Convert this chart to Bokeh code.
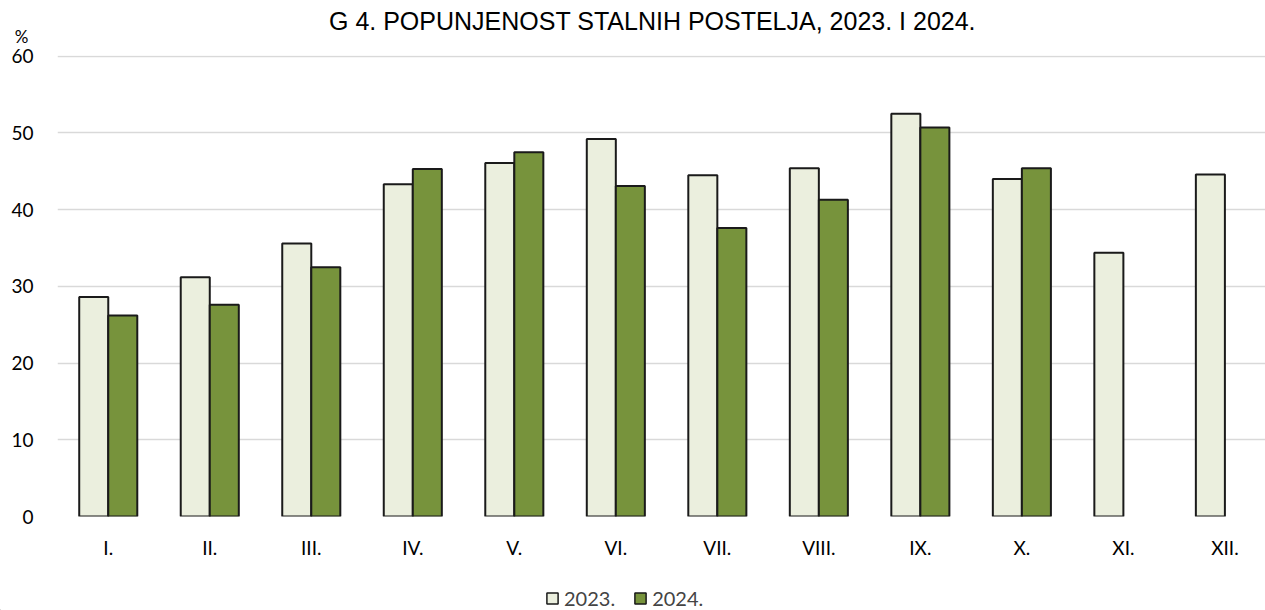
from bokeh.plotting import figure
from bokeh.layouts import column
from bokeh.models import Range1d, FixedTicker, Legend, LegendItem, Label
from bokeh.embed import file_html
from bokeh.resources import INLINE

months = ["I.", "II.", "III.", "IV.", "V.", "VI.", "VII.", "VIII.", "IX.", "X.", "XI.", "XII."]
occ_2023 = [28.6, 31.2, 35.6, 43.3, 46.1, 49.2, 44.5, 45.4, 52.5, 44.0, 34.4, 44.6]
occ_2024 = [26.2, 27.6, 32.5, 45.3, 47.5, 43.1, 37.6, 41.3, 50.7, 45.4]
series = ["2023.", "2024."]
y_ticks = [0, 10, 20, 30, 40, 50, 60]
title_text = "G 4. POPUNJENOST STALNIH POSTELJA, 2023. I 2024."
unit_text = "%"

FONT = "Lato"
W = 1265
H0, H1, H2 = 45, 529, 36
BW = 0.286
FILL = {"2023.": "#EBEFDE", "2024.": "#77933C"}
EDGE = "#1a1a1a"


def strip(h):
    f = figure(width=W, height=h, output_backend="svg", toolbar_location=None,
               title=None, x_axis_type=None, y_axis_type=None,
               x_range=Range1d(0, W), y_range=Range1d(0, h),
               min_border=0, min_border_left=0, min_border_right=0,
               min_border_top=0, min_border_bottom=0, frame_align=False)
    f.outline_line_color = None
    f.xgrid.visible = False
    f.ygrid.visible = False
    return f


# ---- title strip
top = strip(H0)
top.add_layout(Label(x=652, y=H0 - 20.5, text=title_text, text_align="center",
                     text_baseline="alphabetic", text_font="Liberation Sans",
                     text_font_size="25px", text_color="#000000"))
top.add_layout(Label(x=21, y=H0 - 36, text=unit_text, text_align="center",
                     text_baseline="alphabetic", text_font=FONT,
                     text_font_size="17px", text_color="#000000"))

# ---- main chart
p = figure(width=W, height=H1, output_backend="svg", toolbar_location=None,
           x_range=Range1d(0.5, 12.40), y_range=Range1d(0, 60.1),
           min_border_left=57, min_border_right=0, min_border_top=10,
           min_border_bottom=H1 + H0 - 516, frame_align=False)
p.outline_line_color = None
p.background_fill_color = "white"
p.border_fill_color = "white"

idx = list(range(1, len(months) + 1))
x23 = [i - BW / 2 for i in idx]
x24 = [i + BW / 2 for i in idx[:len(occ_2024)]]

p.vbar(x=x23, top=occ_2023, bottom=0, width=BW,
       fill_color=FILL["2023."], line_color=EDGE, line_width=2)
p.vbar(x=x24, top=occ_2024, bottom=0, width=BW,
       fill_color=FILL["2024."], line_color=EDGE, line_width=2)

p.xgrid.visible = False
p.ygrid.grid_line_color = "#D9D9D9"
p.ygrid.grid_line_width = 1.5
p.yaxis.ticker = FixedTicker(ticks=y_ticks)
p.xaxis.ticker = FixedTicker(ticks=idx)
p.xaxis.major_label_overrides = {i: m for i, m in zip(idx, months)}

for ax in (p.xaxis[0], p.yaxis[0]):
    ax.axis_line_color = None
    ax.major_tick_line_color = None
    ax.minor_tick_line_color = None
    ax.major_tick_out = 0
    ax.major_tick_in = 0
    ax.minor_tick_out = 0
    ax.major_label_text_font = FONT
    ax.major_label_text_font_size = "19px"
    ax.major_label_text_color = "#000000"
p.yaxis.major_label_standoff = 24
p.xaxis.major_label_standoff = 19

# ---- legend strip
lg = strip(H2)
rs = [lg.vbar(x=[-100], top=[-100], width=1, fill_color=FILL[s], line_color=EDGE, line_width=1.5)
      for s in series]
legend = Legend(items=[LegendItem(label=s, renderers=[r]) for s, r in zip(series, rs)],
                orientation="horizontal", location=(545, 0),
                glyph_width=14, glyph_height=14, label_standoff=5, spacing=18,
                padding=0, margin=0, border_line_color=None,
                background_fill_alpha=0, label_text_font=FONT,
                label_text_font_size="20px", label_height=18)
lg.add_layout(legend, "center")

layout = column(top, p, lg, spacing=0)
open("out.html", "w").write(file_html(layout, INLINE))
